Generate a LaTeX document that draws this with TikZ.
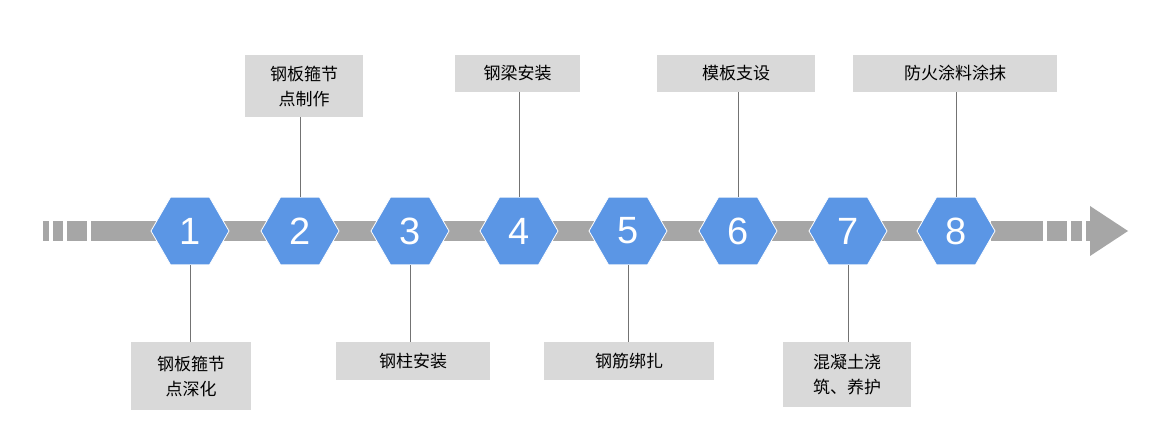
\documentclass[tikz,border=0pt]{standalone}
\usepackage{fontspec}
\setmainfont{Liberation Sans}
\newfontfamily\cjk{Noto Sans CJK SC}
\usetikzlibrary{shapes.geometric}
\definecolor{barg}{HTML}{A6A6A6}
\definecolor{hexb}{HTML}{5B96E5}
\definecolor{boxg}{HTML}{D9D9D9}
\begin{document}
\begin{tikzpicture}[x=1pt,y=-1pt,
 hex/.style={regular polygon,regular polygon sides=6,minimum size=78pt,inner sep=0pt,fill=hexb,draw=white,line width=0.8pt,text=white,font=\fontsize{38}{40}\selectfont},
 lab/.style={fill=boxg,align=center,font=\cjk\fontsize{17}{25}\selectfont,inner sep=0pt},
 con/.style={draw=black!55,line width=0.8pt}]
\useasboundingbox (0,0) rectangle (1172,427);
\fill[white] (0,0) rectangle (1172,427);
\foreach \a/\b in {43/49,53/63,67/87,91/987,991/1043,1047/1067,1071/1082}
 \fill[barg] (\a,221) rectangle (\b,241);
\fill[barg] (1086,221) rectangle (1090,241);
\fill[barg] (1090,206) -- (1128,231) -- (1090,256) -- cycle;
\foreach \i/\x in {1/190,2/300,3/410,4/519,5/628,6/738,7/848,8/956}
 \node[hex] (h\i) at (\x,231) {\i};
\node[lab,minimum width=118pt,minimum height=62pt] (t2) at (304,86) {钢板箍节\\点制作};
\node[lab,minimum width=125pt,minimum height=37pt] (t4) at (517.5,73.5) {钢梁安装};
\node[lab,minimum width=158pt,minimum height=37pt] (t6) at (736,73.5) {模板支设};
\node[lab,minimum width=204pt,minimum height=37pt] (t8) at (955,73.5) {防火涂料涂抹};
\node[lab,minimum width=120pt,minimum height=68pt] (b1) at (191,376) {钢板箍节\\点深化};
\node[lab,minimum width=154pt,minimum height=38pt] (b3) at (413,361) {钢柱安装};
\node[lab,minimum width=170pt,minimum height=38pt] (b5) at (629,361) {钢筋绑扎};
\node[lab,minimum width=128pt,minimum height=65pt] (b7) at (847,374.5) {混凝土浇\\筑、养护};
\foreach \i in {2,4,6,8} \draw[con] (t\i.south -| h\i.north) -- (h\i.north);
\foreach \i in {1,3,5,7} \draw[con] (h\i.south) -- (b\i.north -| h\i.south);
\end{tikzpicture}
\end{document}
